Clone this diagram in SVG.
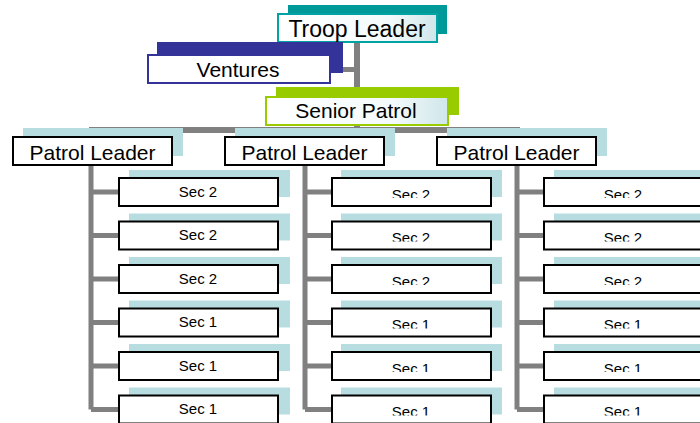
<svg xmlns="http://www.w3.org/2000/svg" width="700" height="423" viewBox="0 0 700 423">
<defs>
<linearGradient id="gl" x1="0" y1="0" x2="1" y2="0">
<stop offset="0" stop-color="#ffffff"/>
<stop offset="0.7" stop-color="#f4fafb"/>
<stop offset="1" stop-color="#cfe6ea"/>
</linearGradient>
<clipPath id="r1"><rect x="0" y="177" width="700" height="21"/></clipPath>
<clipPath id="r2"><rect x="0" y="220.5" width="700" height="21"/></clipPath>
<clipPath id="r3"><rect x="0" y="264" width="700" height="21"/></clipPath>
<clipPath id="r4"><rect x="0" y="307.5" width="700" height="21"/></clipPath>
<clipPath id="r5"><rect x="0" y="351" width="700" height="21"/></clipPath>
<clipPath id="r6"><rect x="0" y="394.5" width="700" height="21"/></clipPath>
</defs>
<style>
text{font-family:"Liberation Sans",Arial,sans-serif;fill:#000;text-anchor:middle}
.big{font-size:21px}
.sec{font-size:15px}
.sh{fill:#b7dde1}
.box{fill:#fff;stroke:#000;stroke-width:2}
.con{stroke:#808080;stroke-width:5;fill:none}
</style>
<rect width="700" height="423" fill="#fff"/>

<g id="connectors">
<line class="con" x1="357" y1="40" x2="357" y2="132" style="stroke-width:6"/>
<line class="con" x1="340" y1="69.5" x2="357" y2="69.5"/>
<line class="con" x1="89" y1="130" x2="520" y2="130" style="stroke-width:6"/>
<path class="con" d="M91 130 V409.5 M91 192 H120 M91 235.5 H120 M91 279 H120 M91 322.5 H120 M91 366 H120 M91 409.5 H120"/>
<path class="con" d="M305 130 V409.5 M305 192 H333 M305 235.5 H333 M305 279 H333 M305 322.5 H333 M305 366 H333 M305 409.5 H333"/>
<path class="con" d="M517 130 V409.5 M517 192 H545 M517 235.5 H545 M517 279 H545 M517 322.5 H545 M517 366 H545 M517 409.5 H545"/>
</g>

<g id="troop-leader">
<rect x="288" y="5" width="159" height="29" fill="#009999"/>
<rect x="278" y="14" width="159" height="28" fill="url(#gl)" stroke="#00a3a3" stroke-width="2"/>
<text x="357" y="37" style="font-size:23px">Troop Leader</text>
</g>

<g id="ventures">
<rect x="157" y="42" width="186" height="31" fill="#333399"/>
<rect x="148" y="55" width="182" height="28" fill="#fff" stroke="#333399" stroke-width="2"/>
<text class="big" x="238" y="77">Ventures</text>
</g>

<g id="senior-patrol">
<rect x="276" y="87" width="183" height="28" fill="#99cc00"/>
<rect x="266" y="97" width="182" height="28" fill="url(#gl)" stroke="#99cc00" stroke-width="2"/>
<text class="big" x="356" y="118">Senior Patrol</text>
</g>

<g id="patrol-leader-1">
<rect class="sh" x="23" y="128" width="160" height="28"/>
<rect class="box" x="13" y="137" width="159" height="28"/>
<text class="big" x="92.5" y="160">Patrol Leader</text>
</g>
<g id="patrol-leader-2">
<rect class="sh" x="235" y="128" width="160" height="28"/>
<rect class="box" x="225" y="137" width="159" height="28"/>
<text class="big" x="304.5" y="160">Patrol Leader</text>
</g>
<g id="patrol-leader-3">
<rect class="sh" x="447" y="128" width="160" height="28"/>
<rect class="box" x="437" y="137" width="159" height="28"/>
<text class="big" x="516.5" y="160">Patrol Leader</text>
</g>

<!-- Column 1 -->
<g id="c1-1"><rect class="sh" x="129" y="170" width="161" height="27"/><rect class="box" x="119" y="178" width="159" height="28"/><text class="sec" x="198" y="196.5">Sec 2</text></g>
<g id="c1-2"><rect class="sh" x="129" y="213.5" width="161" height="27"/><rect class="box" x="119" y="221.5" width="159" height="28"/><text class="sec" x="198" y="240">Sec 2</text></g>
<g id="c1-3"><rect class="sh" x="129" y="257" width="161" height="27"/><rect class="box" x="119" y="265" width="159" height="28"/><text class="sec" x="198" y="283.5">Sec 2</text></g>
<g id="c1-4"><rect class="sh" x="129" y="300.5" width="161" height="27"/><rect class="box" x="119" y="308.5" width="159" height="28"/><text class="sec" x="198" y="327">Sec 1</text></g>
<g id="c1-5"><rect class="sh" x="129" y="344" width="161" height="27"/><rect class="box" x="119" y="352" width="159" height="28"/><text class="sec" x="198" y="370.5">Sec 1</text></g>
<g id="c1-6"><rect class="sh" x="129" y="387.5" width="161" height="27"/><rect class="box" x="119" y="395.5" width="159" height="28"/><text class="sec" x="198" y="414">Sec 1</text></g>

<!-- Column 2 -->
<g id="c2-1"><rect class="sh" x="341" y="170" width="161" height="27"/><rect class="box" x="332" y="178" width="159" height="28"/><text class="sec" x="411" y="199.5" clip-path="url(#r1)">Sec 2</text></g>
<g id="c2-2"><rect class="sh" x="341" y="213.5" width="161" height="27"/><rect class="box" x="332" y="221.5" width="159" height="28"/><text class="sec" x="411" y="243" clip-path="url(#r2)">Sec 2</text></g>
<g id="c2-3"><rect class="sh" x="341" y="257" width="161" height="27"/><rect class="box" x="332" y="265" width="159" height="28"/><text class="sec" x="411" y="286.5" clip-path="url(#r3)">Sec 2</text></g>
<g id="c2-4"><rect class="sh" x="341" y="300.5" width="161" height="27"/><rect class="box" x="332" y="308.5" width="159" height="28"/><text class="sec" x="411" y="330" clip-path="url(#r4)">Sec 1</text></g>
<g id="c2-5"><rect class="sh" x="341" y="344" width="161" height="27"/><rect class="box" x="332" y="352" width="159" height="28"/><text class="sec" x="411" y="373.5" clip-path="url(#r5)">Sec 1</text></g>
<g id="c2-6"><rect class="sh" x="341" y="387.5" width="161" height="27"/><rect class="box" x="332" y="395.5" width="159" height="28"/><text class="sec" x="411" y="417" clip-path="url(#r6)">Sec 1</text></g>

<!-- Column 3 -->
<g id="c3-1"><rect class="sh" x="554" y="170" width="161" height="27"/><rect class="box" x="544" y="178" width="159" height="28"/><text class="sec" x="623" y="199.5" clip-path="url(#r1)">Sec 2</text></g>
<g id="c3-2"><rect class="sh" x="554" y="213.5" width="161" height="27"/><rect class="box" x="544" y="221.5" width="159" height="28"/><text class="sec" x="623" y="243" clip-path="url(#r2)">Sec 2</text></g>
<g id="c3-3"><rect class="sh" x="554" y="257" width="161" height="27"/><rect class="box" x="544" y="265" width="159" height="28"/><text class="sec" x="623" y="286.5" clip-path="url(#r3)">Sec 2</text></g>
<g id="c3-4"><rect class="sh" x="554" y="300.5" width="161" height="27"/><rect class="box" x="544" y="308.5" width="159" height="28"/><text class="sec" x="623" y="330" clip-path="url(#r4)">Sec 1</text></g>
<g id="c3-5"><rect class="sh" x="554" y="344" width="161" height="27"/><rect class="box" x="544" y="352" width="159" height="28"/><text class="sec" x="623" y="373.5" clip-path="url(#r5)">Sec 1</text></g>
<g id="c3-6"><rect class="sh" x="554" y="387.5" width="161" height="27"/><rect class="box" x="544" y="395.5" width="159" height="28"/><text class="sec" x="623" y="417" clip-path="url(#r6)">Sec 1</text></g>
</svg>
